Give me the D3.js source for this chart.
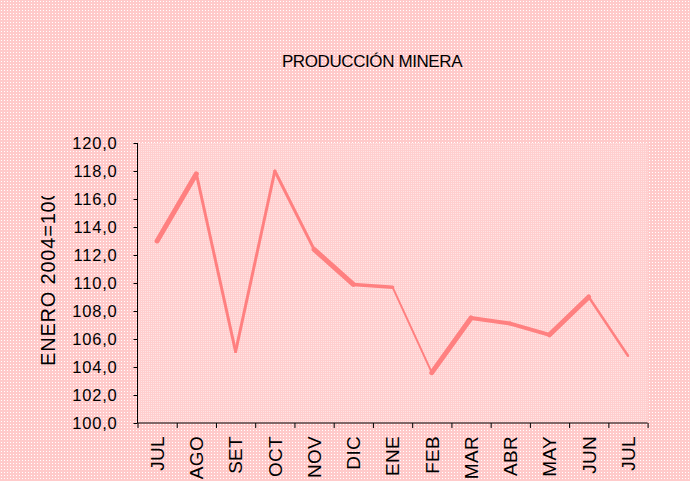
<!DOCTYPE html>
<html>
<head>
<meta charset="utf-8">
<script src="https://cdn.jsdelivr.net/npm/d3@7"></script>
<style>
  html, body { margin: 0; padding: 0; background: #ffd6d6; }
  svg { display: block; }
  text { font-family: "Liberation Sans", Arial, sans-serif; fill: #000; }
</style>
</head>
<body>
<svg id="chart" width="690" height="481"></svg>
<script>
// ---- data ----
const categories = ["JUL","AGO","SET","OCT","NOV","DIC","ENE","FEB","MAR","ABR","MAY","JUN","JUL"];
const values = [113.0, 117.8, 105.1, 118.0, 112.4, 109.9, 109.7, 103.6, 107.5, 107.1, 106.3, 109.0, 104.8];
const yTicks = [100,102,104,106,108,110,112,114,116,118,120];
const titleText = "PRODUCCIÓN MINERA";
const yTitle = "ENERO 2004=100";

// ---- styles (per-segment stroke widths, mimicking the reference rendering) ----
const segWidths = [5, 3, 3, 3, 5, 3.5, 2, 5, 4, 4, 5, 2.5];

const W = 690, H = 481;
const plot = {left: 137.5, right: 647.6, top: 143, bottom: 423};

const svg = d3.select("#chart");
const defs = svg.append("defs");

// dotted background patterns
const pat = defs.append("pattern").attr("id","bgdots").attr("width",3).attr("height",3)
  .attr("patternUnits","userSpaceOnUse");
pat.append("rect").attr("width",3).attr("height",3).attr("fill","#ffcaca");
pat.append("rect").attr("x",1).attr("y",1).attr("width",1).attr("height",1).attr("fill","#ffffff");

const pat2 = defs.append("pattern").attr("id","plotdots").attr("width",2).attr("height",2)
  .attr("patternUnits","userSpaceOnUse");
pat2.append("rect").attr("width",2).attr("height",2).attr("fill","#ffcece");
pat2.append("rect").attr("x",1).attr("y",1).attr("width",1).attr("height",1).attr("fill","#ffe4e4");

svg.append("rect").attr("width",W).attr("height",H).attr("fill","url(#bgdots)");
svg.append("rect").attr("x",plot.left).attr("y",plot.top)
  .attr("width",plot.right-plot.left).attr("height",plot.bottom-plot.top)
  .attr("fill","url(#plotdots)");

// scales
const x = d3.scaleBand().domain(d3.range(categories.length)).range([plot.left, plot.right]).padding(0);
const xEdges = d3.scaleLinear().domain([0, categories.length]).range([plot.left, plot.right]);
const y = d3.scaleLinear().domain([100,120]).range([plot.bottom, plot.top]);

// title
svg.append("text").attr("x",372).attr("y",67).attr("text-anchor","middle")
  .style("font-size","17px").style("letter-spacing","-0.4px").text(titleText);

// y axis
const fmt = d => d3.format(".1f")(d).replace(".", ",");
const yAxis = svg.append("g").attr("transform",`translate(${plot.left},0)`)
  .call(d3.axisLeft(y).tickValues(yTicks).tickFormat(fmt).tickSize(4).tickPadding(16));
yAxis.selectAll("text").style("font-size","16.5px").style("letter-spacing","0.8px")
  .attr("font-family",null);
yAxis.selectAll("line, path").attr("stroke","#000");
yAxis.select(".domain").attr("d",`M0,${plot.top}V${plot.bottom}`);

// x axis: ticks at band edges
const xAxisTicks = svg.append("g").attr("transform",`translate(0,${plot.bottom})`)
  .call(d3.axisBottom(xEdges).tickValues(d3.range(categories.length+1)).tickSize(5).tickFormat(""));
xAxisTicks.select(".domain").attr("d",`M${plot.left},0H${plot.right}`);
xAxisTicks.selectAll("line, path").attr("stroke","#000");

// x labels at band centres
const xAxisLabels = svg.append("g").attr("transform",`translate(0,${plot.bottom})`)
  .call(d3.axisBottom(x).tickFormat(i => categories[i]).tickSize(0));
xAxisLabels.select(".domain").remove();
xAxisLabels.selectAll("text")
  .style("font-size","19px").style("letter-spacing","0.3px")
  .attr("font-family",null)
  .attr("transform","rotate(-90)")
  .attr("text-anchor","end")
  .attr("dy","0.36em")
  .attr("x",-13)
  .attr("y",0);

// y title (clipped at top like reference)
defs.append("clipPath").attr("id","ytclip").append("rect")
  .attr("x",0).attr("y",196).attr("width",100).attr("height",285);
svg.append("g").attr("clip-path","url(#ytclip)")
  .append("text")
  .attr("transform","translate(55,366) rotate(-90)")
  .attr("text-anchor","start")
  .style("font-size","20px").style("letter-spacing","0.8px")
  .text(yTitle);

// line drawn as segments
const cx = i => x(i) + x.bandwidth()/2;
const segs = d3.range(values.length-1).map(i => [[cx(i), y(values[i])],[cx(i+1), y(values[i+1])]]);
const line = d3.line();
svg.append("g").selectAll("path").data(segs).join("path")
  .attr("d", d => line(d))
  .attr("fill","none")
  .attr("stroke","#ff8080")
  .attr("stroke-width",(d,i) => segWidths[i])
  .attr("stroke-linecap","round")
  .attr("stroke-linejoin","miter");
</script>
</body>
</html>
